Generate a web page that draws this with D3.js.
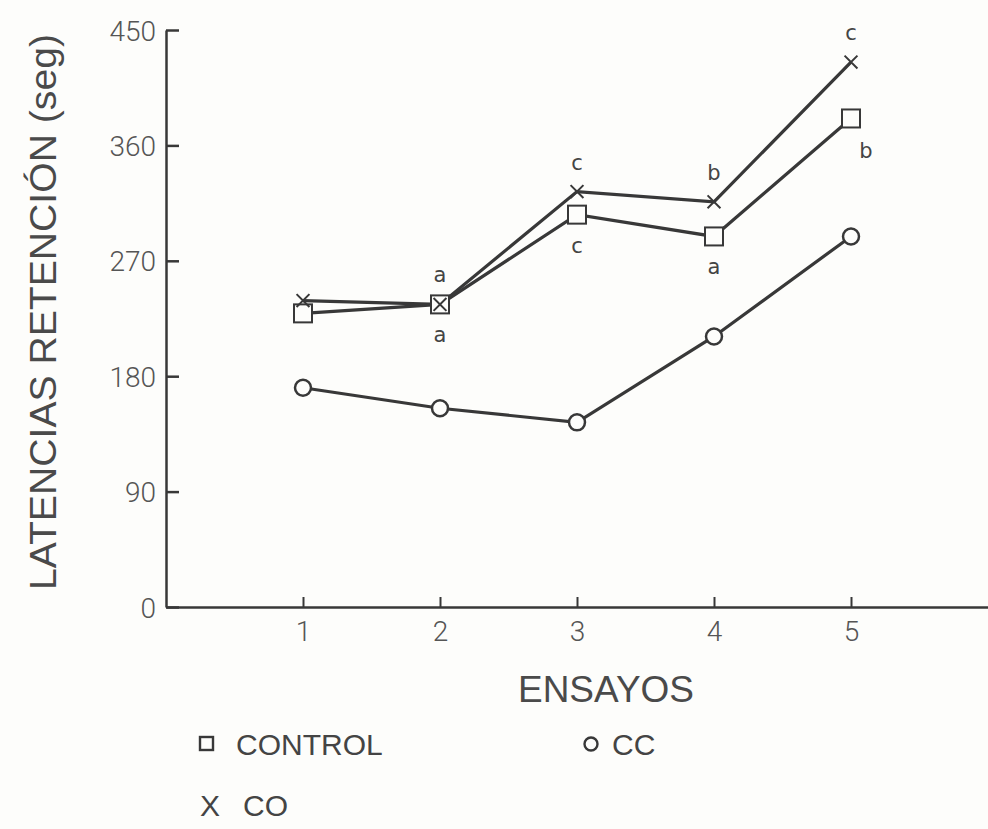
<!DOCTYPE html>
<html><head><meta charset="utf-8">
<script src="https://cdn.jsdelivr.net/npm/d3@7"></script>
<style>body{margin:0;background:#fdfdfb;} svg{display:block;}</style>
</head><body>
<script>
const ensayos = [1, 2, 3, 4, 5];
const controlVals = [229, 236, 306, 289, 381];
const coVals = [239, 236, 324, 316, 425];
const ccVals = [171, 155, 144, 211, 289];
const yTicks = [0, 90, 180, 270, 360, 450];
const xTicks = [1, 2, 3, 4, 5];
// significance letters: [series, ensayo, letter, position]
const letters = [
  ["co", 2, "a", "above"], ["control", 2, "a", "below"],
  ["co", 3, "c", "above"], ["control", 3, "c", "below"],
  ["co", 4, "b", "above"], ["control", 4, "a", "below"],
  ["co", 5, "c", "above"], ["control", 5, "b", "right"]
];

const W = 988, H = 829;
const ink = "#383838";
const svg = d3.select("body").append("svg").attr("width", W).attr("height", H);
const x = d3.scaleLinear().domain([0, 6]).range([166, 988]);
const y = d3.scaleLinear().domain([0, 450]).range([607, 30]);
const tickFont = "Roboto, 'Liberation Sans Narrow', sans-serif";

// axes
const yAxis = d3.axisLeft(y).tickValues(yTicks).tickSize(-13).tickPadding(10).tickSizeOuter(0);
const gy = svg.append("g").attr("transform", `translate(${x(0)},0)`).call(yAxis);
gy.select(".domain").attr("stroke", ink).attr("stroke-width", 2.5);
gy.selectAll(".tick line").attr("stroke", ink).attr("stroke-width", 2.5);
gy.selectAll(".tick text").attr("fill", "#555").attr("x", -10).attr("dy", "0.36em")
  .style("font-family", tickFont).style("font-weight", 300).style("font-size", "28px");

const xAxis = d3.axisBottom(x).tickValues(xTicks).tickFormat(d3.format("d"))
  .tickSize(-10).tickPadding(22).tickSizeOuter(0);
const gx = svg.append("g").attr("transform", `translate(0,${y(0)})`).call(xAxis);
gx.select(".domain").attr("stroke", ink).attr("stroke-width", 2.5);
gx.selectAll(".tick line").attr("stroke", ink).attr("stroke-width", 2);
gx.selectAll(".tick text").attr("fill", "#555").attr("y", 34).attr("dy", 0)
  .style("font-family", tickFont).style("font-weight", 300).style("font-size", "28px");

// titles
svg.append("text").attr("transform", `translate(56,312) rotate(-90)`)
  .attr("text-anchor", "middle").attr("fill", "#4a4a4a")
  .attr("textLength", 556).attr("lengthAdjust", "spacingAndGlyphs")
  .style("font-family", "'Liberation Sans', sans-serif").style("font-size", "36px")
  .text("LATENCIAS RETENCIÓN (seg)");
svg.append("text").attr("x", 606).attr("y", 702).attr("text-anchor", "middle").attr("fill", "#4a4a4a")
  .attr("textLength", 176).attr("lengthAdjust", "spacingAndGlyphs")
  .style("font-family", "'Liberation Sans', sans-serif").style("font-size", "37px")
  .text("ENSAYOS");

const line = d3.line().x((d, i) => x(ensayos[i])).y(d => y(d));
[ccVals, controlVals, coVals].forEach(vals => {
  svg.append("path").datum(vals).attr("d", line).attr("fill", "none")
    .attr("stroke", ink).attr("stroke-width", 3.2);
});

// markers
svg.selectAll(".cc").data(ccVals).enter().append("circle")
  .attr("cx", (d, i) => x(ensayos[i])).attr("cy", d => y(d)).attr("r", 8)
  .attr("fill", "#fdfdfb").attr("stroke", ink).attr("stroke-width", 2.5);
svg.selectAll(".ctl").data(controlVals).enter().append("rect")
  .attr("x", (d, i) => x(ensayos[i]) - 9).attr("y", d => y(d) - 9)
  .attr("width", 18).attr("height", 18)
  .attr("fill", "#fdfdfb").attr("stroke", ink).attr("stroke-width", 2);
const cross = d3.symbol().type(d3.symbolX).size(110);
svg.selectAll(".co").data(coVals).enter().append("path")
  .attr("transform", (d, i) => `translate(${x(ensayos[i])},${y(d)})`)
  .attr("d", cross)
  .attr("fill", "none").attr("stroke", ink).attr("stroke-width", 2);

// letters
const seriesMap = {co: coVals, control: controlVals};
letters.forEach(([s, e, l, pos]) => {
  const cx = x(e), cy = y(seriesMap[s][e - 1]);
  let tx = cx, ty = cy;
  if (pos === "above") ty = cy - 22;
  if (pos === "below") ty = cy + 38;
  if (pos === "right") { tx = cx + 15; ty = cy + 40; }
  svg.append("text").attr("x", tx).attr("y", ty).attr("text-anchor", "middle")
    .attr("fill", "#444").style("font-family", "'DejaVu Sans', sans-serif")
    .style("font-size", "21px").text(l);
});

// legend
const lg = svg.append("g").style("font-family", "'Liberation Sans', sans-serif").style("font-size", "30px").attr("fill", "#444");
lg.append("rect").attr("x", 200).attr("y", 737).attr("width", 13).attr("height", 13).attr("fill", "none").attr("stroke", ink).attr("stroke-width", 2.4);
lg.append("text").attr("x", 236).attr("y", 755).text("CONTROL");
lg.append("circle").attr("cx", 591).attr("cy", 744).attr("r", 6.5).attr("fill", "none").attr("stroke", ink).attr("stroke-width", 2.4);
lg.append("text").attr("x", 612).attr("y", 755).text("CC");
lg.append("text").attr("x", 200).attr("y", 816).text("X");
lg.append("text").attr("x", 243).attr("y", 816).text("CO");
</script>
</body></html>
